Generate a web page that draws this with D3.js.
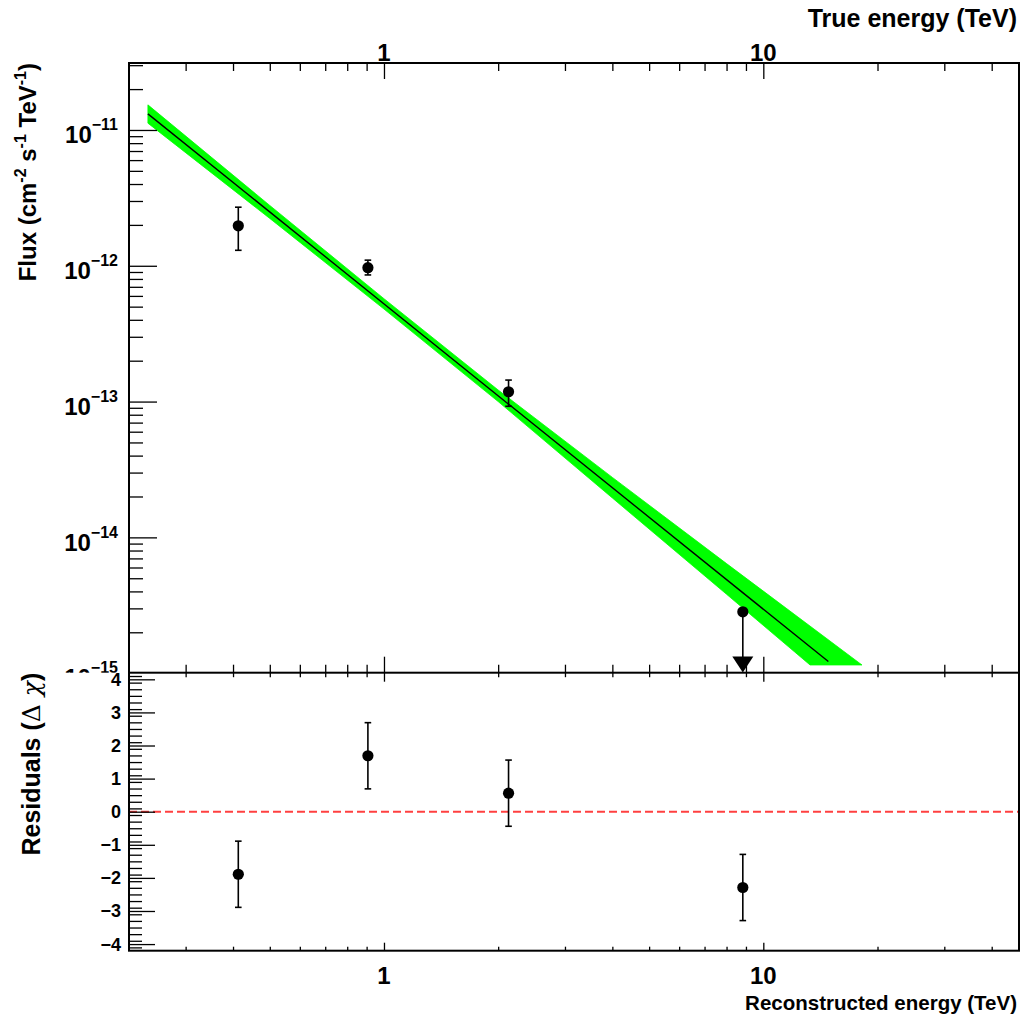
<!DOCTYPE html>
<html>
<head>
<meta charset="utf-8">
<script src="https://cdn.jsdelivr.net/npm/d3@7"></script>
<style>
  body { margin: 0; background: #fff; }
  svg text { font-family: "Liberation Sans", Arial, Helvetica, sans-serif; font-weight: bold; fill: #000; }
</style>
</head>
<body>
<svg id="chart" width="1026" height="1015"></svg>
<script>
// ---- Spectral points (TeV, cm^-2 s^-1 TeV^-1) ----
const pointEnergy = [0.413, 0.907, 2.13, 8.83];
const pointFlux = [1.97e-12, 9.68e-13, 1.18e-13, 2.83e-15];
const pointFluxHigh = [2.70e-12, 1.10e-12, 1.44e-13, null];
const pointFluxLow = [1.30e-12, 8.56e-13, 9.23e-14, null];
const pointIsUpperLimit = [false, false, false, true];

// ---- Residuals (Δχ) of the same bins ----
const residualValue = [-1.89, 1.69, 0.56, -2.29];
const residualError = [1.0, 1.0, 1.0, 1.0];

// ---- Best-fit power law (straight in log-log) ----
const modelEnergy = [0.2386, 14.84];
const modelFlux = [1.314e-11, 1.218e-15];

// ---- Fit uncertainty butterfly ----
const bandUpperEnergy = [0.2386, 0.5, 1, 2, 4, 8, 18.2];
const bandUpperFlux = [1.531e-11, 2.781e-12, 5.724e-13, 1.217e-13, 2.765e-14, 6.412e-15, 1.149e-15];
const bandLowerEnergy = [0.2386, 0.5, 1, 2, 4, 8, 13.28];
const bandLowerFlux = [1.122e-11, 2.231e-12, 4.800e-13, 1.000e-13, 1.950e-14, 3.811e-15, 1.149e-15];

// ---- Axis ticks ----
const energyDomain = [0.21273, 47.21];
const fluxDomain = [1.008e-15, 3.113e-11];
const residualDomain = [-4.2, 4.2];
const energyMajorTicks = [1, 10];
const energyTickLabels = ["1", "10"];
const energyMinorTicks = [0.3, 0.4, 0.5, 0.6, 0.7, 0.8, 0.9, 2, 3, 4, 5, 6, 7, 8, 9, 20, 30, 40];
const fluxMajorTicks = [1e-11, 1e-12, 1e-13, 1e-14, 1e-15];
const fluxTickExponents = ["\u221211", "\u221212", "\u221213", "\u221214", "\u221215"];
const residualMajorTicks = [-4, -3, -2, -1, 0, 1, 2, 3, 4];
const residualTickLabels = ["\u22124", "\u22123", "\u22122", "\u22121", "0", "1", "2", "3", "4"];

// ---- Layout ----
const L = 129, R = 1019;
const topY0 = 63, topY1 = 672.7;
const botY0 = 672.7, botY1 = 950.7;

const svg = d3.select("#chart");

const x = d3.scaleLog().domain(energyDomain).range([L, R]);
const yF = d3.scaleLog().domain(fluxDomain).range([topY1, topY0]);
const yR = d3.scaleLinear().domain(residualDomain).range([botY1, botY0]);

// minor flux ticks: 2..9 within each decade of the visible range
const fluxMinorTicks = [];
for (let e = -16; e <= -10; e++) {
  for (let m = 2; m <= 9; m++) {
    const v = m * Math.pow(10, e);
    if (v > fluxDomain[0] && v < fluxDomain[1]) fluxMinorTicks.push(v);
  }
}
const residualMinorTicks = d3.range(-41, 42, 2).map(d => d / 10)
  .filter(v => Math.abs(v - Math.round(v)) > 1e-6 && v > residualDomain[0] && v < residualDomain[1]);

function tickAxis(g, axis) {
  g.call(axis);
  g.select(".domain").remove();
  g.selectAll(".tick line").attr("stroke", "#000").attr("stroke-width", 1.3);
  g.selectAll(".tick text").remove();
}

// ================= Flux panel =================
const fluxPanel = svg.append("g");
fluxPanel.append("rect").attr("x", 0).attr("y", 0).attr("width", 1026).attr("height", 1015).attr("fill", "#fff");

svg.append("defs").append("clipPath").attr("id", "fluxClip")
  .append("rect").attr("x", L).attr("y", topY0).attr("width", R - L).attr("height", topY1 - topY0);

const plot = fluxPanel.append("g").attr("clip-path", "url(#fluxClip)");

// butterfly band
const bandPts = bandUpperEnergy.map((e, i) => [x(e), yF(bandUpperFlux[i])])
  .concat(bandLowerEnergy.map((e, i) => [x(e), yF(bandLowerFlux[i])]).reverse());
plot.append("path")
  .attr("d", d3.line()(bandPts) + "Z")
  .attr("fill", "#00ff00").attr("stroke", "#00ff00").attr("stroke-width", 0.8)
  .attr("stroke-linejoin", "round");

// fitted model line
plot.append("path")
  .attr("d", d3.line()(modelEnergy.map((e, i) => [x(e), yF(modelFlux[i])])))
  .attr("fill", "none").attr("stroke", "#000").attr("stroke-width", 1.4);

// data points
pointEnergy.forEach((e, i) => {
  const px = x(e), py = yF(pointFlux[i]);
  if (pointIsUpperLimit[i]) {
    fluxPanel.append("line").attr("x1", px).attr("x2", px).attr("y1", py).attr("y2", py + 46)
      .attr("stroke", "#000").attr("stroke-width", 1.6);
    fluxPanel.append("path")
      .attr("d", `M${px - 10.5},${py + 44.7}L${px + 10.5},${py + 44.7}L${px},${py + 60.7}Z`)
      .attr("fill", "#000");
  } else {
    const yh = yF(pointFluxHigh[i]), yl = yF(pointFluxLow[i]);
    fluxPanel.append("line").attr("x1", px).attr("x2", px).attr("y1", yh).attr("y2", yl)
      .attr("stroke", "#000").attr("stroke-width", 1.6);
    [yh, yl].forEach(yy => fluxPanel.append("line").attr("x1", px - 3.3).attr("x2", px + 3.3)
      .attr("y1", yy).attr("y2", yy).attr("stroke", "#000").attr("stroke-width", 1.6));
  }
  fluxPanel.append("circle").attr("cx", px).attr("cy", py).attr("r", 5.6).attr("fill", "#000");
});

// ticks: left flux axis
tickAxis(fluxPanel.append("g").attr("transform", `translate(${L},0)`),
  d3.axisRight(yF).tickValues(fluxMajorTicks).tickSize(28));
tickAxis(fluxPanel.append("g").attr("transform", `translate(${L},0)`),
  d3.axisRight(yF).tickValues(fluxMinorTicks).tickSize(14));
// top "true energy" axis
tickAxis(fluxPanel.append("g").attr("transform", `translate(0,${topY0})`),
  d3.axisBottom(x).tickValues(energyMajorTicks).tickSize(16));
tickAxis(fluxPanel.append("g").attr("transform", `translate(0,${topY0})`),
  d3.axisBottom(x).tickValues(energyMinorTicks).tickSize(8));
// bottom edge of the flux panel
tickAxis(fluxPanel.append("g").attr("transform", `translate(0,${topY1})`),
  d3.axisTop(x).tickValues(energyMajorTicks).tickSize(16));
tickAxis(fluxPanel.append("g").attr("transform", `translate(0,${topY1})`),
  d3.axisTop(x).tickValues(energyMinorTicks).tickSize(8));

// frame lines of the flux panel
fluxPanel.append("path")
  .attr("d", `M${L},${topY1}V${topY0}H${R}V${topY1}`)
  .attr("fill", "none").attr("stroke", "#000").attr("stroke-width", 2);

// flux tick labels
fluxMajorTicks.forEach((v, i) => {
  const t = fluxPanel.append("text").attr("x", 118).attr("y", yF(v) + 13.3)
    .attr("text-anchor", "end").attr("font-size", 24);
  t.append("tspan").text("10");
  t.append("tspan").attr("font-size", 16).attr("dy", -13).text(fluxTickExponents[i]);
});

// true energy labels
energyMajorTicks.forEach((v, i) => {
  fluxPanel.append("text").attr("x", x(v)).attr("y", 61).attr("text-anchor", "middle")
    .attr("font-size", 24).text(energyTickLabels[i]);
});
fluxPanel.append("text").attr("x", 1017).attr("y", 27).attr("text-anchor", "end")
  .attr("font-size", 25).text("True energy (TeV)");

// flux axis title
const ft = fluxPanel.append("text").attr("transform", "translate(36,63) rotate(-90)")
  .attr("text-anchor", "end").attr("font-size", 24);
ft.append("tspan").text("Flux (cm");
ft.append("tspan").attr("font-size", 16).attr("dy", -10).text("-2");
ft.append("tspan").attr("dy", 10).text(" s");
ft.append("tspan").attr("font-size", 16).attr("dy", -10).text("-1");
ft.append("tspan").attr("dy", 10).text(" TeV");
ft.append("tspan").attr("font-size", 16).attr("dy", -10).text("-1");
ft.append("tspan").attr("dy", 10).text(")");

// ================= Residual panel =================
const resPanel = svg.append("g");
resPanel.append("rect").attr("x", 0).attr("y", botY0).attr("width", 1026).attr("height", 1015 - botY0).attr("fill", "#fff");

// zero reference line
resPanel.append("line").attr("x1", L).attr("x2", R).attr("y1", yR(0)).attr("y2", yR(0))
  .attr("stroke", "#ff4040").attr("stroke-width", 2).attr("stroke-dasharray", "8,4");

residualValue.forEach((v, i) => {
  const px = x(pointEnergy[i]);
  const yh = yR(v + residualError[i]), yl = yR(v - residualError[i]);
  resPanel.append("line").attr("x1", px).attr("x2", px).attr("y1", yh).attr("y2", yl)
    .attr("stroke", "#000").attr("stroke-width", 1.6);
  [yh, yl].forEach(yy => resPanel.append("line").attr("x1", px - 3.3).attr("x2", px + 3.3)
    .attr("y1", yy).attr("y2", yy).attr("stroke", "#000").attr("stroke-width", 1.6));
  resPanel.append("circle").attr("cx", px).attr("cy", yR(v)).attr("r", 5.6).attr("fill", "#000");
});

tickAxis(resPanel.append("g").attr("transform", `translate(${L},0)`),
  d3.axisRight(yR).tickValues(residualMajorTicks).tickSize(26));
tickAxis(resPanel.append("g").attr("transform", `translate(${L},0)`),
  d3.axisRight(yR).tickValues(residualMinorTicks).tickSize(13));
tickAxis(resPanel.append("g").attr("transform", `translate(0,${botY0})`),
  d3.axisBottom(x).tickValues(energyMajorTicks).tickSize(9));
tickAxis(resPanel.append("g").attr("transform", `translate(0,${botY0})`),
  d3.axisBottom(x).tickValues(energyMinorTicks).tickSize(4.5));
tickAxis(resPanel.append("g").attr("transform", `translate(0,${botY1})`),
  d3.axisTop(x).tickValues(energyMajorTicks).tickSize(8));
tickAxis(resPanel.append("g").attr("transform", `translate(0,${botY1})`),
  d3.axisTop(x).tickValues(energyMinorTicks).tickSize(4));

resPanel.append("rect").attr("x", L).attr("y", botY0).attr("width", R - L).attr("height", botY1 - botY0)
  .attr("fill", "none").attr("stroke", "#000").attr("stroke-width", 2);

residualMajorTicks.forEach((v, i) => {
  resPanel.append("text").attr("x", 121).attr("y", yR(v) + 6.5).attr("text-anchor", "end")
    .attr("font-size", 18).text(residualTickLabels[i]);
});

energyMajorTicks.forEach((v, i) => {
  resPanel.append("text").attr("x", x(v)).attr("y", 984).attr("text-anchor", "middle")
    .attr("font-size", 24).text(energyTickLabels[i]);
});
resPanel.append("text").attr("x", 1017).attr("y", 1010).attr("text-anchor", "end")
  .attr("font-size", 20.5).text("Reconstructed energy (TeV)");

const rt = resPanel.append("text").attr("transform", `translate(40,${botY0}) rotate(-90)`)
  .attr("text-anchor", "end").attr("font-size", 25);
rt.append("tspan").text("Residuals (");
rt.append("tspan").attr("font-weight", "normal").attr("font-family", "DejaVu Serif, serif").text("\u0394 ");
rt.append("tspan").attr("font-weight", "normal").attr("font-style", "italic").attr("font-family", "DejaVu Serif, serif").text("\u03c7");
rt.append("tspan").text(")");
</script>
</body>
</html>
